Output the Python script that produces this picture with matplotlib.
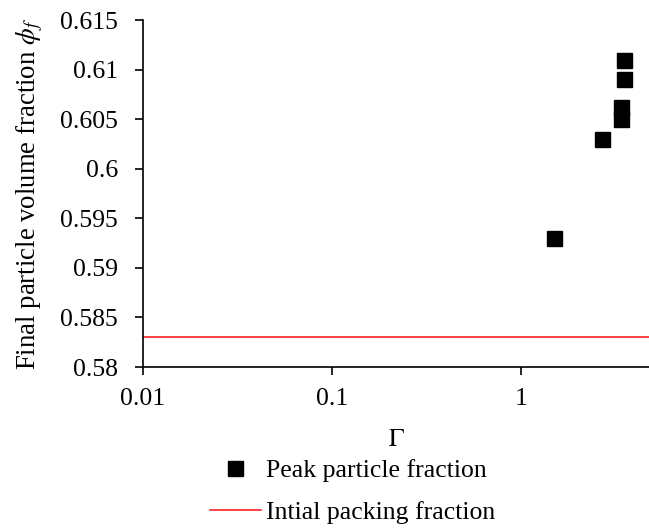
import matplotlib
matplotlib.use("Agg")
import matplotlib.pyplot as plt
from matplotlib.ticker import FixedLocator, FuncFormatter, NullLocator

plt.rcParams['font.family'] = ['Liberation Serif', 'DejaVu Serif']
plt.rcParams['mathtext.fontset'] = 'stix'

gamma = [1.50, 2.67, 3.37, 3.37, 3.49, 3.49]
phi_f = [0.593, 0.603, 0.605, 0.6062, 0.609, 0.611]
initial_packing = 0.583
x_limits = [0.01, 4.76]
y_ticks = [0.58, 0.585, 0.59, 0.595, 0.6, 0.605, 0.61, 0.615]
x_ticks = [0.01, 0.1, 1]

FS = 18.5

fig = plt.figure(figsize=(6.49, 5.28), dpi=100)
ax = fig.add_axes([0.2203, 0.3049, 0.7797, 0.6572])

ax.plot(gamma, phi_f, linestyle='none', marker='s', markersize=10.8,
        color='black', label='Peak particle fraction')
ax.plot(x_limits, [initial_packing, initial_packing], color='#ff2020',
        linewidth=1.2, label='Intial packing fraction')

ax.set_xscale('log')
ax.set_xlim(x_limits)
ax.set_ylim(y_ticks[0], y_ticks[-1])
ax.xaxis.set_major_locator(FixedLocator(x_ticks))
ax.xaxis.set_minor_locator(NullLocator())
ax.xaxis.set_major_formatter(FuncFormatter(lambda v, p: '%g' % v))
ax.yaxis.set_major_locator(FixedLocator(y_ticks))
ax.yaxis.set_major_formatter(FuncFormatter(lambda v, p: '%g' % round(v, 4)))

for s in ['top', 'right']:
    ax.spines[s].set_visible(False)
for s in ['left', 'bottom']:
    ax.spines[s].set_linewidth(1.2)

ax.tick_params(axis='both', labelsize=FS, width=1.2, length=6)
ax.tick_params(axis='y', direction='out', pad=12)
ax.tick_params(axis='x', direction='out', pad=9)

ax.set_xlabel(r'$\Gamma$', fontsize=FS, labelpad=14)
ax.set_ylabel(r'Final particle volume fraction $\phi_f$', fontsize=19.3, labelpad=11)

fig.legend(loc='upper center', bbox_to_anchor=(0.543, 0.150),
           frameon=False, fontsize=FS, handlelength=2.0, handletextpad=0.2,
           labelspacing=0.75, borderaxespad=0)

fig.savefig('out.png', dpi=100)
